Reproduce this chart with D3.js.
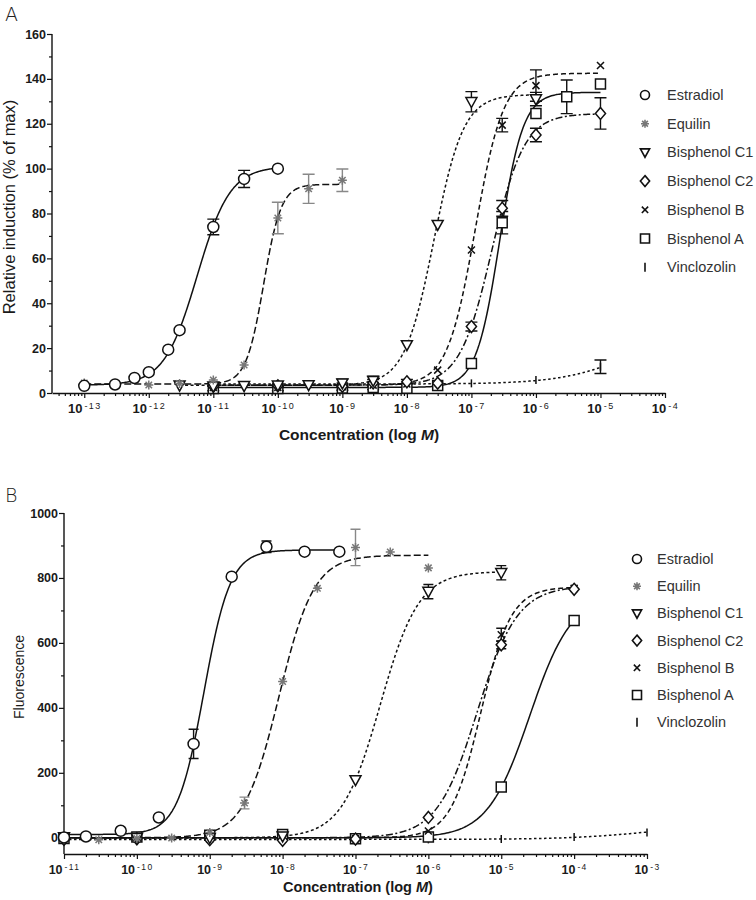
<!DOCTYPE html>
<html><head><meta charset="utf-8">
<script src="https://cdn.jsdelivr.net/npm/d3@7"></script>
<style>
body{margin:0;background:#fff;}
svg{display:block;font-family:Arial,"Liberation Sans",Helvetica,sans-serif;}
</style>
</head><body>
<svg id="chart" width="756" height="900"></svg>
<script>
// ---------------- DATA ----------------
const compounds = ["Estradiol","Equilin","Bisphenol C1","Bisphenol C2","Bisphenol B","Bisphenol A","Vinclozolin"];

// Panel A : relative induction (% of max)
const concA_E2  = [1e-13,3e-13,6e-13,1e-12,2e-12,3e-12,1e-11,3e-11,1e-10];
const valA_E2   = [3.2,3.8,6.7,9.3,19.3,28,74,95.4,100];
const errA_E2   = [0,0,0,0,0,0,3.5,3.8,0];
const fitA_E2   = [3.5,101,-11.25,1.7];

const concA_EQ  = [1e-13,3e-13,1e-12,3e-12,1e-11,3e-11,1e-10,3e-10,1e-9];
const valA_EQ   = [4.5,4,3.6,4.2,5.8,12.5,78,91,94.8];
const errA_EQ   = [0,0,0,0,0,0,7,6.5,5];
const fitA_EQ   = [4,93,-10.22,3.2];

const concA_C1  = [3e-12,1e-11,3e-11,1e-10,3e-10,1e-9,3e-9,1e-8,3e-8,1e-7,1e-6];
const valA_C1   = [3.4,3,3.2,3.4,3.6,4.4,5.5,21.4,75,129.8,131];
const errA_C1   = [0,0,0,0,0,1.8,2,0,0,4.5,3];
const fitA_C1   = [3.5,133,-7.58,1.9];

const concA_C2  = [1e-11,1e-10,1e-9,3e-9,1e-8,3e-8,1e-7,3e-7,1e-6,1e-5];
const valA_C2   = [3,3.2,3,4.5,5,4.4,29.6,82.3,115,124.6];
const errA_C2   = [0,0,0,1.5,1,0,2,3.5,3,7];
const fitA_C2   = [3.5,124.5,-6.68,1.74];

const concA_BB  = [1e-11,1e-10,1e-9,3e-9,1e-8,3e-8,1e-7,3e-7,1e-6,1e-5];
const valA_BB   = [2.5,2.5,2.8,3.5,4,10.2,63.7,119.4,137,146];
const errA_BB   = [0,0,0,0,0,0,0,3,7,0];
const fitA_BB   = [3.5,142.5,-6.94,2.0];

const concA_BA  = [1e-11,1e-10,1e-9,3e-9,1e-8,3e-8,1e-7,3e-7,1e-6,3e-6,1e-5];
const valA_BA   = [2,2,2.2,2.5,2.1,3.3,13.2,75.9,124.6,132,137.7];
const errA_BA   = [1,1,1,1,0,0,0,5,0,7.5,0];
const fitA_BA   = [2.5,134,-6.56,2.4];

const concA_VZ  = [1e-11,1e-10,1e-9,3e-9,1e-8,3e-8,1e-7,1e-6,1e-5];
const valA_VZ   = [4,4,4,4.5,4.2,4.3,4.3,5.8,11.7];
const errA_VZ   = [0,0,0,0,0,0,0,0,3];
const fitA_VZ   = [4,30,-4.5,0.8];

// Panel B : fluorescence
const concB_E2  = [1e-11,2e-11,6e-11,2e-10,6e-10,2e-9,6e-9,2e-8,6e-8];
const valB_E2   = [1,4,21.5,62.5,289,804,896,881,881];
const errB_E2   = [0,0,0,0,45,0,18,0,0];
const fitB_E2   = [10,886,-9.08,2.4];

const concB_EQ  = [1e-11,3e-11,1e-10,3e-10,1e-9,3e-9,1e-8,3e-8,1e-7,3e-7,1e-6];
const valB_EQ   = [-3,-6,-2,-1,16,107,481,768,894,880,831];
const errB_EQ   = [0,0,0,0,0,18,0,0,56,0,0];
const fitB_EQ   = [0,870,-8.05,1.8];

const concB_C1  = [1e-11,1e-10,1e-9,1e-8,1e-7,1e-6,1e-5];
const valB_C1   = [2,0,0,5,178,758,816];
const errB_C1   = [0,0,0,0,0,22,22];
const fitB_C1   = [0,820,-6.66,1.64];

const concB_C2  = [1e-11,1e-10,1e-9,1e-8,1e-7,1e-6,1e-5,1e-4];
const valB_C2   = [-5,-3,-6,-8,-4,62.5,594,765];
const errB_C2   = [0,0,0,0,0,0,12,0];
const fitB_C2   = [0,775,-5.33,1.576];

const concB_BB  = [1e-11,1e-10,1e-9,1e-8,1e-7,1e-6,1e-5,1e-4];
const valB_BB   = [0,-2,-4,-5,-3,21,625,768];
const errB_BB   = [0,0,0,0,0,0,20,0];
const fitB_BB   = [0,772,-5.28,2.1];

const concB_BA  = [1e-11,1e-10,1e-9,1e-8,1e-7,1e-6,1e-5,1e-4];
const valB_BA   = [-2,2,8,10,-3,2,156,669];
const errB_BA   = [0,0,0,0,0,0,0,0];
const fitB_BA   = [0,750,-4.61,1.5];

const concB_VZ  = [1e-11,1e-10,1e-9,1e-8,1e-7,1e-6,1e-5,1e-4,1e-3];
const valB_VZ   = [-5,-5,-5,-5,-5,-5,-4,2,16];
const errB_VZ   = [0,0,0,0,0,0,0,0,0];
const fitB_VZ   = [-5,40,-3,0.8];

// Tick values
const yTicksA = [0,20,40,60,80,100,120,140,160];
const yTicksB = [0,200,400,600,800,1000];
const xDecadesA = [-13,-12,-11,-10,-9,-8,-7,-6,-5,-4];
const xDecadesB = [-11,-10,-9,-8,-7,-6,-5,-4,-3];

// ---------------- STYLES ----------------
const symbolType = ["circle","star","tri","diamond","cross","square","bar"];
const dashStyle  = [null,"7,3","3,2.5","7,2.5,2,2.5","5,3",null,"2.5,2.5"];
const markColor  = ["#111","#777","#111","#111","#111","#111","#111"];
const errColor   = ["#111","#888","#111","#111","#111","#111","#111"];

function mk(conc,val,err,fit){
  return {pts:conc.map((c,i)=>({c:c,v:val[i],e:err[i]})),fit:fit,lo:conc[0],hi:conc[conc.length-1]};
}
const seriesA = [
  mk(concA_E2,valA_E2,errA_E2,fitA_E2), mk(concA_EQ,valA_EQ,errA_EQ,fitA_EQ),
  mk(concA_C1,valA_C1,errA_C1,fitA_C1), mk(concA_C2,valA_C2,errA_C2,fitA_C2),
  mk(concA_BB,valA_BB,errA_BB,fitA_BB), mk(concA_BA,valA_BA,errA_BA,fitA_BA),
  mk(concA_VZ,valA_VZ,errA_VZ,fitA_VZ)];
const seriesB = [
  mk(concB_E2,valB_E2,errB_E2,fitB_E2), mk(concB_EQ,valB_EQ,errB_EQ,fitB_EQ),
  mk(concB_C1,valB_C1,errB_C1,fitB_C1), mk(concB_C2,valB_C2,errB_C2,fitB_C2),
  mk(concB_BB,valB_BB,errB_BB,fitB_BB), mk(concB_BA,valB_BA,errB_BA,fitB_BA),
  mk(concB_VZ,valB_VZ,errB_VZ,fitB_VZ)];

function symPath(t,s){
  switch(t){
    case "circle": return `M${s},0A${s},${s} 0 1,1 ${-s},0A${s},${s} 0 1,1 ${s},0Z`;
    case "square": return `M${-s},${-s}H${s}V${s}H${-s}Z`;
    case "tri": return `M${-s*1.1},${-s*0.85}L${s*1.1},${-s*0.85}L0,${s*1.15}Z`;
    case "diamond": return `M0,${-s*1.3}L${s*1.1},0L0,${s*1.3}L${-s*1.1},0Z`;
    case "cross": {const a=s*0.7; return `M${-a},${-a}L${a},${a}M${-a},${a}L${a},${-a}`;}
    case "star": {const a=s, b=s*0.72; return `M${-a},0H${a}M0,${-a}V${a}M${-b},${-b}L${b},${b}M${-b},${b}L${b},${-b}`;}
    case "bar": return `M0,${-s}V${s}`;
  }
}

const svg = d3.select("#chart");
const FONT = "Arial, Liberation Sans, sans-serif";

function drawPanel(cfg){
  const g = svg.append("g");
  const x = d3.scaleLog().domain(cfg.xDomain).range([cfg.left,cfg.right]);
  const y = d3.scaleLinear().domain(cfg.yDomain).range([cfg.bottom,cfg.top]);
  const xAxisY = cfg.xAxisY(y);

  // Y axis
  const yMinor = d3.range(0, cfg.yTicks[cfg.yTicks.length-1], cfg.yStep/2).filter(v=>!cfg.yTicks.includes(v));
  const ya = g.append("g").attr("transform",`translate(${cfg.left},0)`)
    .call(d3.axisLeft(y).tickValues(cfg.yTicks).tickSize(5).tickSizeOuter(0).tickPadding(1).tickFormat(d3.format("d")));
  ya.select(".domain").attr("d",`M0,${y(cfg.yTicks[cfg.yTicks.length-1])}V${cfg.bottom}`);
  g.append("g").attr("transform",`translate(${cfg.left},0)`)
    .call(d3.axisLeft(y).tickValues(yMinor).tickSize(3).tickFormat("")).select(".domain").remove();

  // X axis
  const majors = cfg.xDecades.map(e=>Math.pow(10,e));
  const minors = [];
  for(let e=cfg.xDecades[0]-1;e<=cfg.xDecades[cfg.xDecades.length-1];e++)
    for(let m=2;m<=9;m++){const v=m*Math.pow(10,e); if(v>=cfg.xDomain[0]*1.0001 && v<=cfg.xDomain[1]) minors.push(v);}
  const xa = g.append("g").attr("transform",`translate(0,${xAxisY})`)
    .call(d3.axisBottom(x).tickValues(majors).tickSize(5).tickSizeOuter(0).tickPadding(6));
  g.append("g").attr("transform",`translate(0,${xAxisY})`)
    .call(d3.axisBottom(x).tickValues(minors).tickSize(3).tickFormat("")).select(".domain").remove();
  g.selectAll(".tick text").attr("fill","#1a1a1a").attr("font-size","12.5px").attr("font-weight","bold").attr("font-family",FONT);
  xa.selectAll(".tick text").each(function(d){
    const t=d3.select(this); const e=Math.round(Math.log10(d));
    t.text(null).attr("font-size",cfg.xTickFont+"px");
    t.append("tspan").text("10");
    t.append("tspan").attr("dx","2").attr("dy","-0.5em").attr("font-size",(cfg.xTickFont-4)+"px").attr("font-weight","normal").attr("letter-spacing","1.4px").text("-"+Math.abs(e));
  });
  g.selectAll(".domain").attr("stroke","#111").attr("stroke-width",1.4);
  g.selectAll(".tick line").attr("stroke","#111").attr("stroke-width",1.2);

  // Curves
  const line = d3.line().x(d=>x(d[0])).y(d=>y(d[1]));
  const plot = g.append("g");
  cfg.series.forEach((s,i)=>{
    const [bot,top,lec,h] = s.fit;
    const l0=Math.log10(s.lo), l1=Math.log10(s.hi);
    const pts = d3.range(0,301).map(k=>{const lx=l0+(l1-l0)*k/300; return [Math.pow(10,lx), bot+(top-bot)/(1+Math.pow(10,(lec-lx)*h))];});
    plot.append("path").attr("d",line(pts)).attr("fill","none").attr("stroke","#111")
      .attr("stroke-width",1.5).attr("stroke-dasharray",dashStyle[i]);
  });
  // Error bars
  cfg.series.forEach((s,i)=>{
    s.pts.filter(p=>p.e>0).forEach(p=>{
      const cx=x(p.c), y1=y(p.v+p.e), y2=y(p.v-p.e), w=cfg.cap;
      plot.append("path").attr("d",`M${cx},${y1}V${y2}M${cx-w},${y1}H${cx+w}M${cx-w},${y2}H${cx+w}`)
        .attr("stroke",errColor[i]).attr("stroke-width",1.4).attr("fill","none");
    });
  });
  // Markers
  [6,5,4,3,2,1,0].forEach(i=>{
    const s=cfg.series[i];
    plot.selectAll(null).data(s.pts).enter().append("path")
      .attr("transform",p=>`translate(${x(p.c)},${y(p.v)})`)
      .attr("d",symPath(symbolType[i],cfg.msize[i]))
      .attr("fill",(symbolType[i]==="cross"||symbolType[i]==="star"||symbolType[i]==="bar")?"none":"#fff")
      .attr("stroke",markColor[i]).attr("stroke-width",1.5);
  });

  // Legend
  const lg = g.append("g");
  compounds.forEach((name,i)=>{
    const ly = cfg.legY + i*cfg.legDy;
    lg.append("path").attr("transform",`translate(${cfg.legX},${ly})`)
      .attr("d",symPath(symbolType[i],cfg.legSize[i]))
      .attr("fill",(symbolType[i]==="cross"||symbolType[i]==="star"||symbolType[i]==="bar")?"none":"#fff")
      .attr("stroke",markColor[i]).attr("stroke-width",1.6);
    lg.append("text").attr("x",cfg.legX+cfg.legTx).attr("y",ly).attr("dy","0.35em")
      .attr("font-size","14.5px").attr("fill","#333").text(name);
  });

  // Titles
  g.append("text").attr("x",cfg.panelX).attr("y",cfg.panelY).attr("font-size","19px").attr("fill","#222")
    .attr("font-family","DejaVu Sans, sans-serif").attr("font-weight","200").text(cfg.panel);
  g.append("text").attr("transform",`translate(${cfg.yTitleX},${cfg.yTitleY}) rotate(-90)`)
    .attr("text-anchor","middle").attr("font-size",cfg.yTitleFont+"px").attr("fill","#1a1a1a").text(cfg.yTitle);
  const xt = g.append("text").attr("x",cfg.xTitleX).attr("y",cfg.xTitleY).attr("text-anchor","middle")
    .attr("font-size",cfg.xTitleFont+"px").attr("font-weight","bold").attr("fill","#1a1a1a");
  xt.append("tspan").text("Concentration (log ");
  xt.append("tspan").attr("font-style","italic").text("M");
  xt.append("tspan").text(")");
}

drawPanel({
  panel:"A", panelX:5, panelY:21,
  series:seriesA, xDomain:[Math.pow(10,-13.5),1e-4], yDomain:[0,160],
  left:52,right:665,top:34,bottom:393, xAxisY:y=>y(0),
  yTicks:yTicksA, yStep:20, xDecades:xDecadesA, cap:6, xTickFont:13,
  msize:[5.5,4.5,5,4.6,5,5,4],
  legX:645, legY:95, legDy:28.7, legTx:22, legSize:[4.5,4,4.2,4.2,4.5,4.5,4.5],
  yTitle:"Relative induction (% of max)", yTitleX:14.5, yTitleY:207, yTitleFont:16.5,
  xTitleX:359, xTitleY:440, xTitleFont:15.5
});
drawPanel({
  panel:"B", panelX:5, panelY:502,
  series:seriesB, xDomain:[1e-11,1e-3], yDomain:[-50,1000],
  left:64,right:647,top:513,bottom:854, xAxisY:y=>854,
  yTicks:yTicksB, yStep:200, xDecades:xDecadesB, cap:5, xTickFont:12.5,
  msize:[5.5,4.5,5,4.6,5,5,4],
  legX:637, legY:559, legDy:27.2, legTx:20, legSize:[4.5,4,4.2,4.2,4.5,4.5,4.5],
  yTitle:"Fluorescence", yTitleX:24, yTitleY:677, yTitleFont:14,
  xTitleX:358, xTitleY:892, xTitleFont:14.5
});
</script>
</body></html>
